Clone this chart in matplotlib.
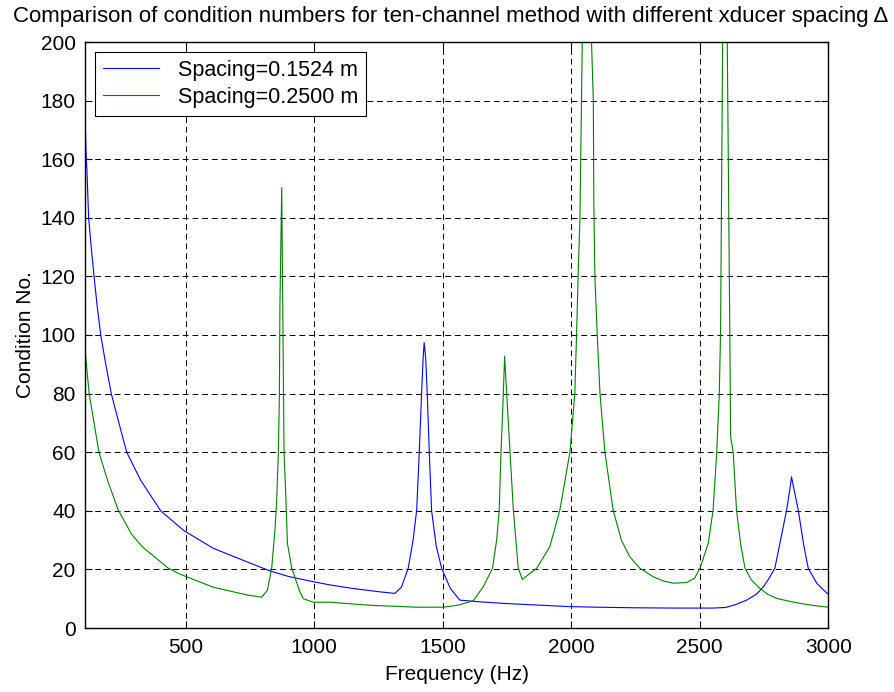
import matplotlib
matplotlib.use("Agg")
import matplotlib.pyplot as plt

# Spacing = 0.1524 m (blue)
freq_blue = [110, 112, 114, 116, 123, 133, 144, 156, 170, 189, 211, 241, 271, 325, 403, 494,
             608, 738, 828, 900, 997,
             1062, 1150, 1250, 1314, 1340, 1366, 1385, 1399, 1409, 1418, 1424, 1428, 1434,
             1440, 1448, 1457, 1475, 1496, 1530, 1567, 1650, 1736, 1850, 1995, 2100, 2250,
             2400, 2550, 2600, 2640, 2682, 2720, 2747, 2770, 2792, 2812, 2838, 2850, 2857,
             2865, 2883, 2905, 2922, 2955, 2975, 3000]
cond_blue = [172, 165, 160, 157, 140, 130, 120, 110, 100, 90.3, 80, 69.9, 60, 50.5, 40, 33.2,
             27.2, 22.6, 19.5, 17.6, 15.8,
             14.7, 13.5, 12.4, 11.8, 14, 20.4, 30, 40.3, 60, 80, 92, 97.4, 92,
             80, 60, 40, 28, 20.4, 13.5, 9.5, 8.9, 8.4, 7.9, 7.3, 7.1, 6.9,
             6.8, 6.8, 7.0, 8.0, 9.5, 11.5, 14, 17, 20.4, 29, 40.3, 47, 51.6,
             48, 40.3, 28, 20.4, 15.3, 13.5, 11.5]

# Spacing = 0.2500 m (green)
freq_green = [110, 125, 144, 163, 196, 238, 290, 332, 433, 478, 608, 738, 796, 818,
              835, 848, 854, 861, 865, 867, 874, 878, 883, 891, 896, 913, 945, 958, 997,
              1062, 1150, 1230, 1320, 1399, 1502, 1560, 1619, 1658, 1694, 1710, 1720, 1727,
              1736, 1741, 1749, 1762, 1775, 1794, 1810, 1866, 1917, 1956, 1995, 2014, 2021,
              2027, 2034, 2037, 2040, 2043, 2060, 2079, 2086, 2088, 2092, 2101, 2112, 2131,
              2163, 2195, 2228, 2267, 2319, 2360, 2397, 2449, 2480, 2501, 2533, 2552, 2566,
              2576, 2581, 2589, 2598, 2607, 2615, 2617, 2620, 2630, 2643, 2660, 2676, 2700,
              2734, 2765, 2799, 2850, 2890, 2950, 3000]
cond_green = [94, 80, 70, 60, 50.5, 40.3, 32, 27.7, 20.4, 18.4, 13.9, 11.3, 10.5, 12.8,
              20.4, 34, 42.7, 60, 80, 110, 150.3, 110, 60, 42.7, 29, 20.4, 12.3, 10, 8.8,
              8.8, 8.2, 7.7, 7.4, 7.1, 7.1, 7.8, 9.3, 14.1, 20.4, 30, 40.3, 60,
              80, 92.8, 80, 60, 40.3, 20.4, 16.6, 20.4, 27.8, 40.3, 60, 80, 100.6,
              120.5, 140, 160, 180, 200, 1500, 200, 180, 145, 120, 100.6, 80, 60,
              40.3, 30, 24.3, 20.4, 17.5, 16, 15.3, 15.5, 17, 20.4, 28.9, 40.3, 60,
              80, 101.7, 200, 1500, 200, 120, 100, 65.3, 60, 40.3, 28, 20.4, 16.5,
              13.5, 11.5, 10.1, 9.1, 8.4, 7.6, 7.1]

x_ticks = [500, 1000, 1500, 2000, 2500, 3000]
y_ticks = [0, 20, 40, 60, 80, 100, 120, 140, 160, 180, 200]

plt.rcParams['font.family'] = ['Liberation Sans', 'DejaVu Sans']

fig = plt.figure(figsize=(8.94, 6.92), dpi=100)
ax = fig.add_axes([85.3 / 894, 1 - 628 / 692, (828.3 - 85.3) / 894, (628 - 42) / 692])

ax.plot(freq_blue, cond_blue, color=(0, 0, 1), lw=0.8, label='Spacing=0.1524 m')
ax.plot(freq_green, cond_green, color=(0, 0.5, 0), lw=0.8, label='Spacing=0.2500 m')

ax.set_xlim(110, 3000)
ax.set_ylim(0, 200)
ax.set_xticks(x_ticks)
ax.set_yticks(y_ticks)
ax.tick_params(direction='in', length=5, width=0.8, labelsize=15,
               top=True, right=True, pad=7)
ax.grid(True, color='black', linestyle=(0, (6, 4)), linewidth=0.7)
for s in ax.spines.values():
    s.set_linewidth(1.0)

ax.set_xlabel('Frequency (Hz)', fontsize=15, labelpad=6)
ax.set_ylabel('Condition No.', fontsize=15, labelpad=4)
ax.text(451 / 894, 1 - 22 / 692, 'Comparison of condition numbers for ten-channel method with different xducer spacing \u0394',
        transform=fig.transFigure, ha='center', va='baseline', fontsize=16)

leg = ax.legend(loc='upper left', bbox_to_anchor=((95 - 85.3) / 743, 1 - (52 - 42) / 586),
                fontsize=15.5, frameon=True, fancybox=False, edgecolor='black',
                framealpha=1, borderaxespad=0, handlelength=2.6, handletextpad=0.9,
                borderpad=0.35, labelspacing=0.3)
leg.get_frame().set_linewidth(0.8)

fig.savefig('out.png', dpi=100)
